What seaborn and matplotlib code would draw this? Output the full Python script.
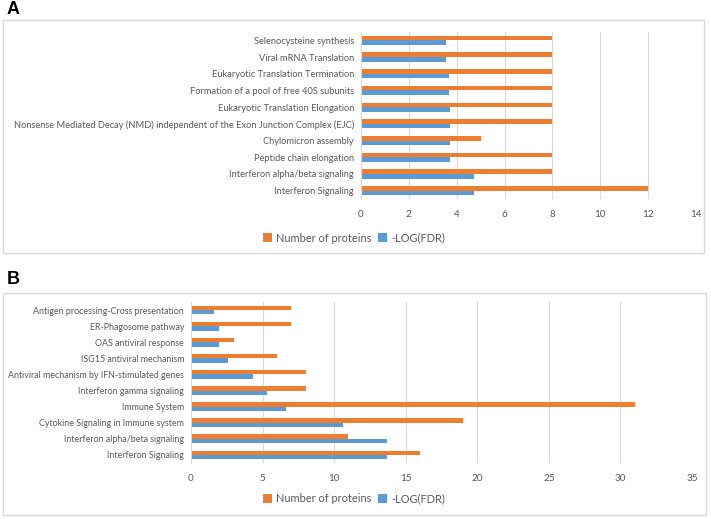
import pandas as pd
import numpy as np
import matplotlib
matplotlib.use("Agg")
import matplotlib.pyplot as plt
import seaborn as sns
from matplotlib.patches import Patch, Rectangle

# Panel A data (top to bottom)
cats_a = [
    "Selenocysteine synthesis",
    "Viral mRNA Translation",
    "Eukaryotic Translation Termination",
    "Formation of a pool of free 40S subunits",
    "Eukaryotic Translation Elongation",
    "Nonsense Mediated Decay (NMD) independent of the Exon Junction Complex (EJC)",
    "Chylomicron assembly",
    "Peptide chain elongation",
    "Interferon alpha/beta signaling",
    "Interferon Signaling",
]
proteins_a = [8, 8, 8, 8, 8, 8, 5, 8, 8, 12]
logfdr_a = [3.54, 3.54, 3.69, 3.69, 3.71, 3.72, 3.72, 3.72, 4.74, 4.74]

# Panel B data (top to bottom)
cats_b = [
    "Antigen processing-Cross presentation",
    "ER-Phagosome pathway",
    "OAS antiviral response",
    "ISG15 antiviral mechanism",
    "Antiviral mechanism by IFN-stimulated genes",
    "Interferon gamma signaling",
    "Immune System",
    "Cytokine Signaling in Immune system",
    "Interferon alpha/beta signaling",
    "Interferon Signaling",
]
proteins_b = [7, 7, 3, 6, 8, 8, 31, 19, 11, 16]
logfdr_b = [1.63, 1.93, 1.98, 2.61, 4.36, 5.34, 6.64, 10.63, 13.68, 13.68]

series = ["Number of proteins", "-LOG(FDR)"]
colors = {"Number of proteins": "#ED7D31", "-LOG(FDR)": "#5B9BD5"}

FONT = "Lato"
TXT = "#595959"
GRID = "#d9d9d9"

W, H = 711, 519
fig = plt.figure(figsize=(W / 100, H / 100), dpi=100)


def px_axes(x0, y0, x1, y1):
    return fig.add_axes([x0 / W, 1 - y1 / H, (x1 - x0) / W, (y1 - y0) / H])


def long_df(cats, prot, fdr):
    return pd.DataFrame({
        "pathway": cats * 2,
        "series": [series[0]] * len(cats) + [series[1]] * len(cats),
        "value": prot + fdr,
    })


def draw(ax, df, cats, xmax, step, ysize):
    sns.barplot(data=df, y="pathway", x="value", hue="series", order=cats,
                hue_order=series, palette=colors, orient="h", width=0.55,
                saturation=1, ax=ax, legend=False)
    ax.set_xlim(0, xmax)
    ax.set_xticks(np.arange(0, xmax + 0.1, step))
    ax.set_ylim(len(cats) - 0.5, -0.5)
    ax.grid(axis="x", color=GRID, linewidth=0.8)
    ax.set_axisbelow(True)
    for s in ["top", "right", "bottom"]:
        ax.spines[s].set_visible(False)
    ax.spines["left"].set_color(GRID)
    ax.tick_params(axis="y", length=0, labelsize=ysize, colors=TXT, pad=5)
    ax.tick_params(axis="x", length=0, labelsize=7.2, colors=TXT, pad=8)
    for t in ax.get_xticklabels() + ax.get_yticklabels():
        t.set_fontfamily(FONT)
    ax.set_xlabel("")
    ax.set_ylabel("")
    ax.set_facecolor("none")


# Panel frames
fig.patches.append(Rectangle((3 / W, 1 - 253 / H), 701 / W, 233 / H,
                             transform=fig.transFigure, fill=False,
                             edgecolor=GRID, linewidth=1))
fig.patches.append(Rectangle((3 / W, 1 - 515 / H), 703 / W, 222 / H,
                             transform=fig.transFigure, fill=False,
                             edgecolor=GRID, linewidth=1))

ax_a = px_axes(361, 32, 696, 199)
draw(ax_a, long_df(cats_a, proteins_a, logfdr_a), cats_a, 14, 2, 6.7)

ax_b = px_axes(191, 302, 692, 463)
draw(ax_b, long_df(cats_b, proteins_b, logfdr_b), cats_b, 35, 5, 6.4)

handles = [Patch(facecolor=colors[s], label=s) for s in series]
for yc in (238, 499):
    fig.legend(handles=handles, loc="center", bbox_to_anchor=(354 / W, 1 - yc / H),
               ncol=2, frameon=False, handlelength=0.8, handleheight=0.8,
               handletextpad=0.4, columnspacing=0.6,
               prop={"family": FONT, "size": 7.9}, labelcolor=TXT)

fig.text(7 / W, 1 - 10 / H, "A", fontsize=13, fontweight="bold",
         family="Liberation Sans", va="center")
fig.text(7 / W, 1 - 280 / H, "B", fontsize=13, fontweight="bold",
         family="Liberation Sans", va="center")

fig.savefig("out.png", dpi=100)
